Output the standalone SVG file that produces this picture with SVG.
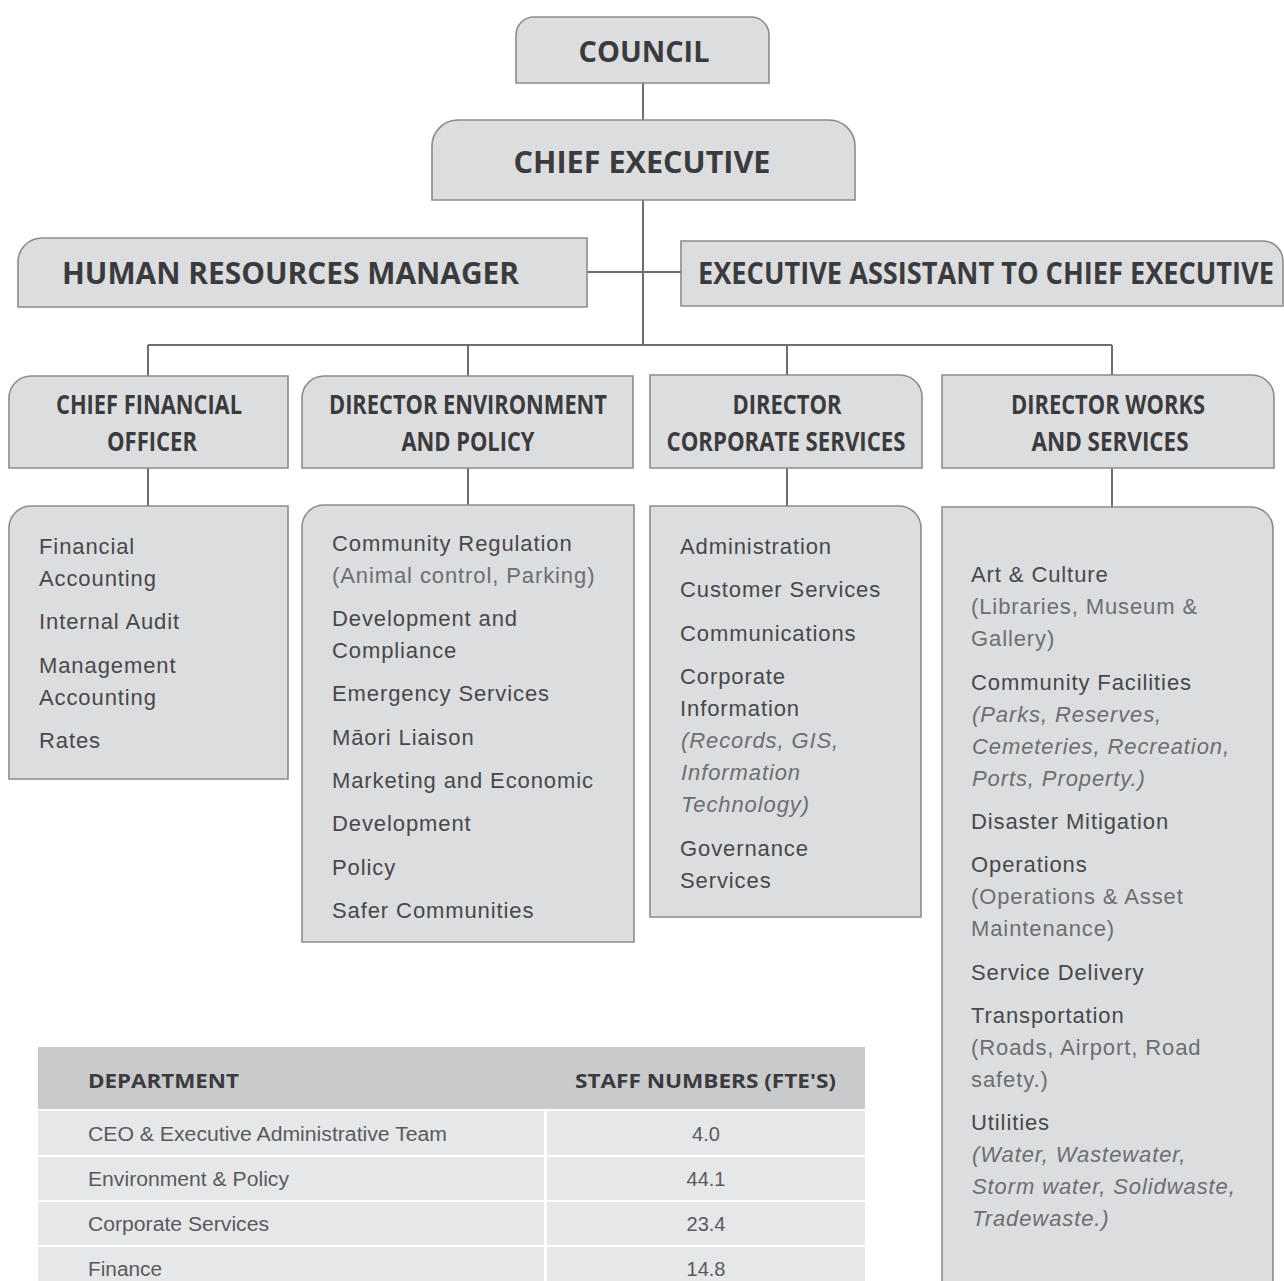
<svg xmlns="http://www.w3.org/2000/svg" width="1284" height="1281" viewBox="0 0 1284 1281">
<style>
.box{fill:#dcdddf;stroke:#8c8c8e;stroke-width:1.6}
.hd{font-family:"Open Sans","Liberation Sans",sans-serif;font-weight:700;fill:#3b3b3d}
.it{font-family:"Liberation Sans",Arial,sans-serif;font-size:22px;letter-spacing:0.9px;fill:#48484a}
.sub{fill:#6d6e71}
.ital{font-style:italic;fill:#6d6e71}
.conn{stroke:#6d6e70;stroke-width:2;fill:none}
.th{font-family:"Open Sans","Liberation Sans",sans-serif;font-weight:700;font-size:20px;fill:#3b3b3d}
.td{font-family:"Liberation Sans",Arial,sans-serif;font-size:20px;fill:#5a5a5c}
.row{fill:#e6e7e8}
</style>
<rect width="1284" height="1281" fill="#ffffff"/>
<g id="connectors">
<path class="conn" d="M643,83 V120 M643,200 V345 M587,272 H681 M148,345 H1112 M148,345 V376 M468,345 V376 M787,345 V376 M1112,345 V376 M148,468 V507 M468,468 V506 M787,468 V506 M1112,468 V507"/>
</g>
<g id="council">
<path class="box" d="M516,83 V35 A18,18 0 0 1 534,17 H751 A18,18 0 0 1 769,35 V83 Z"/>
<text class="hd" x="644" y="62" font-size="28" text-anchor="middle" textLength="131" lengthAdjust="spacingAndGlyphs">COUNCIL</text>
</g>
<g id="chief-executive">
<path class="box" d="M432,200 V146 A26,26 0 0 1 458,120 H829 A26,26 0 0 1 855,146 V200 Z"/>
<text class="hd" x="642" y="173" font-size="30" text-anchor="middle" textLength="257" lengthAdjust="spacingAndGlyphs">CHIEF EXECUTIVE</text>
</g>
<g id="hr-manager">
<path class="box" d="M18,307 V262 A24,24 0 0 1 42,238 H587 V307 Z"/>
<text class="hd" x="62" y="284" font-size="30" textLength="457" lengthAdjust="spacingAndGlyphs">HUMAN RESOURCES MANAGER</text>
</g>
<g id="exec-assistant">
<path class="box" d="M681,306 V241 H1263 A20,20 0 0 1 1283,261 V306 Z"/>
<text class="hd" x="698" y="284" font-size="30" textLength="576" lengthAdjust="spacingAndGlyphs">EXECUTIVE ASSISTANT TO CHIEF EXECUTIVE</text>
</g>
<g id="cfo">
<path class="box" d="M9,468 V398 A22,22 0 0 1 31,376 H288 V468 Z"/>
<text class="hd" x="149" y="414" font-size="26" text-anchor="middle" textLength="186" lengthAdjust="spacingAndGlyphs">CHIEF FINANCIAL</text>
<text class="hd" x="152" y="451" font-size="26" text-anchor="middle" textLength="90" lengthAdjust="spacingAndGlyphs">OFFICER</text>
</g>
<g id="dir-env">
<path class="box" d="M302,468 V398 A22,22 0 0 1 324,376 H633 V468 Z"/>
<text class="hd" x="468" y="414" font-size="26" text-anchor="middle" textLength="278" lengthAdjust="spacingAndGlyphs">DIRECTOR ENVIRONMENT</text>
<text class="hd" x="468" y="451" font-size="26" text-anchor="middle" textLength="133" lengthAdjust="spacingAndGlyphs">AND POLICY</text>
</g>
<g id="dir-corp">
<path class="box" d="M650,468 V375 H900 A22,22 0 0 1 922,397 V468 Z"/>
<text class="hd" x="787" y="414" font-size="26" text-anchor="middle" textLength="109" lengthAdjust="spacingAndGlyphs">DIRECTOR</text>
<text class="hd" x="786" y="451" font-size="26" text-anchor="middle" textLength="239" lengthAdjust="spacingAndGlyphs">CORPORATE SERVICES</text>
</g>
<g id="dir-works">
<path class="box" d="M942,468 V375 H1252 A22,22 0 0 1 1274,397 V468 Z"/>
<text class="hd" x="1108" y="414" font-size="26" text-anchor="middle" textLength="194" lengthAdjust="spacingAndGlyphs">DIRECTOR WORKS</text>
<text class="hd" x="1110" y="451" font-size="26" text-anchor="middle" textLength="157" lengthAdjust="spacingAndGlyphs">AND SERVICES</text>
</g>
<g id="cfo-units">
<path class="box" d="M9,779 V528 A22,22 0 0 1 31,506 H288 V779 Z"/>
<text class="it" x="39" y="554">Financial</text>
<text class="it" x="39" y="586">Accounting</text>
<text class="it" x="39" y="629">Internal Audit</text>
<text class="it" x="39" y="673">Management</text>
<text class="it" x="39" y="705">Accounting</text>
<text class="it" x="39" y="748">Rates</text>
</g>
<g id="env-units">
<path class="box" d="M302,942 V527 A22,22 0 0 1 324,505 H634 V942 Z"/>
<text class="it" x="332" y="551">Community Regulation</text>
<text class="it sub" x="332" y="583">(Animal control, Parking)</text>
<text class="it" x="332" y="626">Development and</text>
<text class="it" x="332" y="658">Compliance</text>
<text class="it" x="332" y="701">Emergency Services</text>
<text class="it" x="332" y="745">Māori Liaison</text>
<text class="it" x="332" y="788">Marketing and Economic</text>
<text class="it" x="332" y="831">Development</text>
<text class="it" x="332" y="875">Policy</text>
<text class="it" x="332" y="918">Safer Communities</text>
</g>
<g id="corp-units">
<path class="box" d="M650,917 V506 H899 A22,22 0 0 1 921,528 V917 Z"/>
<text class="it" x="680" y="554">Administration</text>
<text class="it" x="680" y="597">Customer Services</text>
<text class="it" x="680" y="641">Communications</text>
<text class="it" x="680" y="684">Corporate</text>
<text class="it" x="680" y="716">Information</text>
<text class="it ital" x="681" y="748">(Records, GIS,</text>
<text class="it ital" x="681" y="780">Information</text>
<text class="it ital" x="681" y="812">Technology)</text>
<text class="it" x="680" y="856">Governance</text>
<text class="it" x="680" y="888">Services</text>
</g>
<g id="works-units">
<path class="box" d="M942,1290 V507 H1251 A22,22 0 0 1 1273,529 V1290 Z"/>
<text class="it" x="971" y="582">Art &amp; Culture</text>
<text class="it sub" x="971" y="614">(Libraries, Museum &amp;</text>
<text class="it sub" x="971" y="646">Gallery)</text>
<text class="it" x="971" y="690">Community Facilities</text>
<text class="it ital" x="972" y="722">(Parks, Reserves,</text>
<text class="it ital" x="972" y="754">Cemeteries, Recreation,</text>
<text class="it ital" x="972" y="786">Ports, Property.)</text>
<text class="it" x="971" y="829">Disaster Mitigation</text>
<text class="it" x="971" y="872">Operations</text>
<text class="it sub" x="971" y="904">(Operations &amp; Asset</text>
<text class="it sub" x="971" y="936">Maintenance)</text>
<text class="it" x="971" y="980">Service Delivery</text>
<text class="it" x="971" y="1023">Transportation</text>
<text class="it sub" x="971" y="1055">(Roads, Airport, Road</text>
<text class="it sub" x="971" y="1087">safety.)</text>
<text class="it" x="971" y="1130">Utilities</text>
<text class="it ital" x="972" y="1162">(Water, Wastewater,</text>
<text class="it ital" x="972" y="1194">Storm water, Solidwaste,</text>
<text class="it ital" x="972" y="1226">Tradewaste.)</text>
</g>
<g id="staff-table">
<rect x="38" y="1047" width="827" height="62" fill="#c9cacc"/>
<text class="th" x="88" y="1088" textLength="151" lengthAdjust="spacingAndGlyphs">DEPARTMENT</text>
<text class="th" x="575" y="1088" textLength="261" lengthAdjust="spacingAndGlyphs">STAFF NUMBERS (FTE'S)</text>
<rect class="row" x="38" y="1111" width="506" height="44"/>
<rect class="row" x="547" y="1111" width="318" height="44"/>
<rect class="row" x="38" y="1157" width="506" height="43"/>
<rect class="row" x="547" y="1157" width="318" height="43"/>
<rect class="row" x="38" y="1202" width="506" height="43"/>
<rect class="row" x="547" y="1202" width="318" height="43"/>
<rect class="row" x="38" y="1247" width="506" height="40"/>
<rect class="row" x="547" y="1247" width="318" height="40"/>
<text class="td" x="88" y="1141" textLength="359" lengthAdjust="spacingAndGlyphs">CEO &amp; Executive Administrative Team</text>
<text class="td" x="706" y="1141" text-anchor="middle">4.0</text>
<text class="td" x="88" y="1186" textLength="201" lengthAdjust="spacingAndGlyphs">Environment &amp; Policy</text>
<text class="td" x="706" y="1186" text-anchor="middle">44.1</text>
<text class="td" x="88" y="1231" textLength="181" lengthAdjust="spacingAndGlyphs">Corporate Services</text>
<text class="td" x="706" y="1231" text-anchor="middle">23.4</text>
<text class="td" x="88" y="1276" textLength="74" lengthAdjust="spacingAndGlyphs">Finance</text>
<text class="td" x="706" y="1276" text-anchor="middle">14.8</text>
</g>
</svg>
